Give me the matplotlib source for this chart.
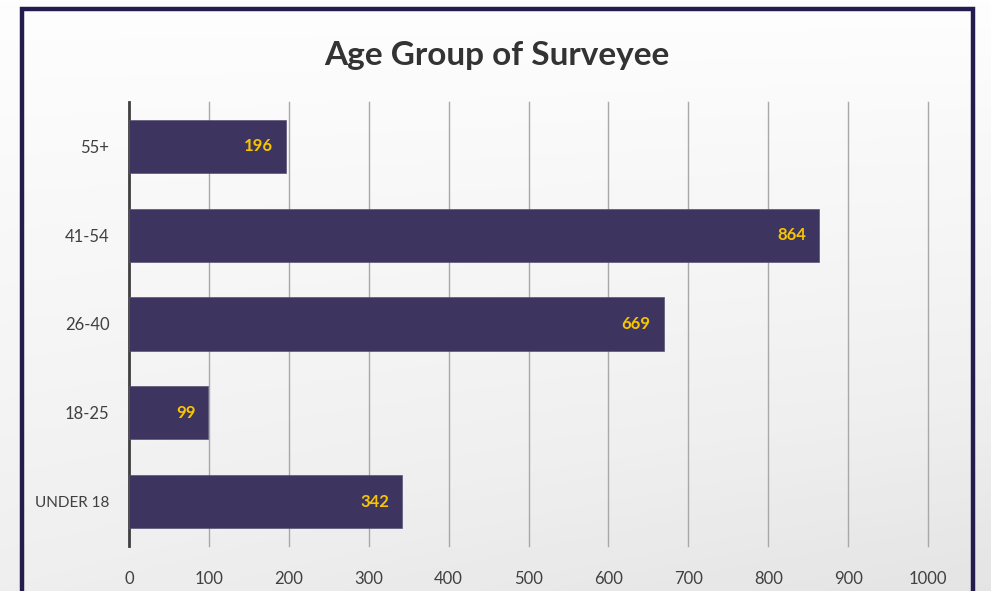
import numpy as np
import matplotlib
matplotlib.use("Agg")
import matplotlib.pyplot as plt
from matplotlib.patches import Rectangle

# data, bottom to top
groups = ["UNDER 18", "18-25", "26-40", "41-54", "55+"]
counts = [342, 99, 669, 864, 196]
ticks = [0, 100, 200, 300, 400, 500, 600, 700, 800, 900, 1000]

plt.rcParams['font.family'] = ['Lato', 'DejaVu Sans']

fig = plt.figure(figsize=(9.91, 5.91), dpi=100)

# soft grey gradient behind everything
bg = fig.add_axes([0, 0, 1, 1], zorder=-10)
yy, xx = np.mgrid[0:1:200j, 0:1:200j]
shade = 0.05 + 0.55 * yy + 0.25 * xx * yy
bg.imshow(shade, cmap='Greys', vmin=0, vmax=4.5, aspect='auto',
          extent=[0, 1, 0, 1], origin='upper')
bg.set_xlim(0, 1)
bg.set_ylim(0, 1)
bg.axis('off')
bg.add_patch(Rectangle((22 / 991, -0.05), (973 - 22) / 991, 1.05 - 9 / 591,
                       fill=False, edgecolor='#231c4d', linewidth=3.2))

ax = fig.add_axes([129 / 991, 1 - 546 / 591, (928 - 129) / 991, (546 - 102) / 591])
ax.patch.set_alpha(0)

ypos = np.arange(len(groups))
ax.barh(ypos, counts, height=0.6, color='#3d3460', edgecolor='#5a5478',
        linewidth=0.5, zorder=3)
for y, v in zip(ypos, counts):
    ax.text(v - 16, y, str(v), ha='right', va='center', color='#f7c600',
            fontsize=12, fontweight='bold', zorder=4)

ax.set_xlim(0, 1000)
ax.set_ylim(-0.5, 4.5)
ax.set_xticks(ticks)
ax.set_yticks(ypos)
ax.set_yticklabels(groups)
ax.xaxis.grid(True, color='#a8a8a8', linewidth=1)
for gl in ax.get_xgridlines():
    gl.set_clip_on(False)
ax.set_axisbelow(True)
ax.tick_params(axis='both', length=0, labelsize=12, labelcolor='#404040')
ax.tick_params(axis='x', pad=18)
ax.tick_params(axis='y', pad=14)
for lab in ax.get_yticklabels():
    if lab.get_text() == "UNDER 18":
        lab.set_fontsize(11)
for s in ['top', 'right', 'bottom']:
    ax.spines[s].set_visible(False)
ax.spines['left'].set_color('#404040')
ax.spines['left'].set_linewidth(2)

fig.text(497 / 991, 1 - 55 / 591, "Age Group of Surveyee", ha='center', va='center',
         fontsize=24, fontweight='bold', color='#333333')

fig.savefig("out.png", dpi=100)
